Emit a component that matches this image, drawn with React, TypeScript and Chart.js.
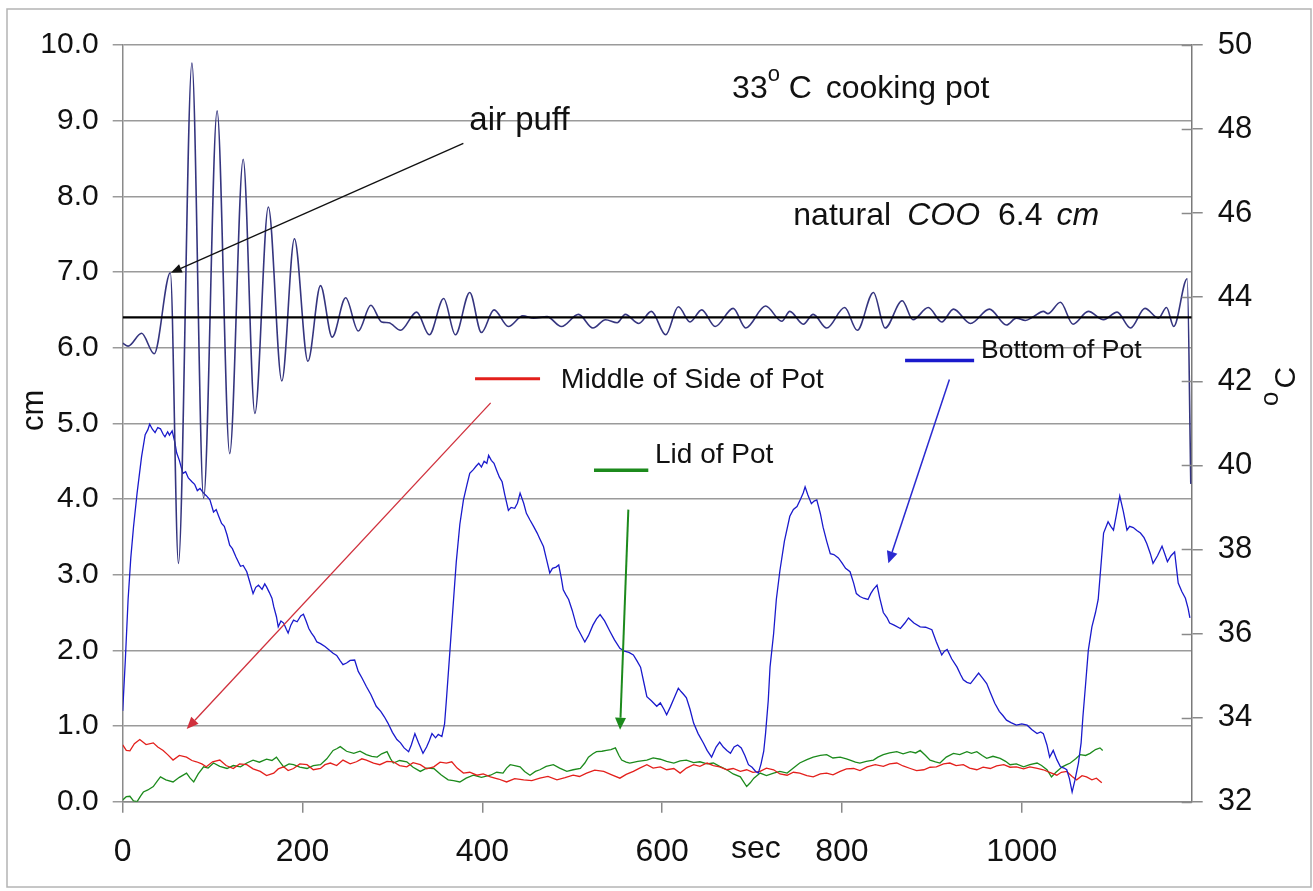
import React, { useEffect, useRef } from "react";
import { Chart, registerables } from "chart.js";

Chart.register(...registerables);

// ---------- data ----------
const X_MIN = 0;
const X_MAX = 1189;
const xTickValues = [0, 200, 400, 600, 800, 1000];
const cmTickValues = [0, 1, 2, 3, 4, 5, 6, 7, 8, 9, 10];
const tempTickValues = [32, 34, 36, 38, 40, 42, 44, 46, 48, 50];
const naturalCOO = 6.4;

// COO oscillation (sec, cm) – left axis
const cooTrace: [number, number][] = [
  [0, 6.06], [6, 6.02], [21, 6.19], [35, 5.92], [53, 6.99], [62, 3.15], [77, 9.76], [90, 4.01],
  [105, 9.13], [119, 4.6], [134, 8.49], [147, 5.13], [162, 7.86], [177, 5.56], [191, 7.44], [206, 5.82],
  [220, 6.82], [233, 6.14], [248, 6.66], [262, 6.22], [276, 6.56], [288, 6.34], [296, 6.33], [309, 6.23],
  [327, 6.47], [341, 6.17], [357, 6.65], [370, 6.17], [386, 6.73], [399, 6.2], [413, 6.5], [429, 6.28],
  [445, 6.42], [457, 6.39], [472, 6.41], [488, 6.28], [507, 6.44], [523, 6.26], [537, 6.37], [550, 6.33],
  [559, 6.44], [574, 6.32], [588, 6.48], [604, 6.17], [618, 6.54], [631, 6.34], [644, 6.5], [659, 6.28],
  [679, 6.52], [693, 6.26], [715, 6.55], [733, 6.35], [742, 6.48], [757, 6.31], [768, 6.44], [783, 6.26],
  [803, 6.53], [817, 6.23], [835, 6.73], [848, 6.26], [867, 6.62], [879, 6.37], [896, 6.53], [911, 6.34],
  [924, 6.51], [943, 6.32], [964, 6.51], [983, 6.3], [994, 6.39], [1004, 6.36], [1013, 6.41], [1024, 6.48],
  [1029, 6.45], [1043, 6.6], [1057, 6.31], [1074, 6.48], [1091, 6.37], [1106, 6.47], [1121, 6.26],
  [1137, 6.52], [1152, 6.39], [1161, 6.53], [1169, 6.28], [1184, 6.91], [1188, 4.2],
];

// Bottom of Pot (sec, °C) – right axis
const bottomOfPot: [number, number][] = [
  [0, 34.16], [3, 35.4], [6, 36.81], [9, 37.8], [12, 38.53], [16, 39.34], [21, 40.21], [25, 40.73], [28, 40.85],
  [30, 40.98], [33, 40.86], [36, 40.78], [39, 40.9], [42, 40.87], [45, 40.74], [47, 40.68], [50, 40.8], [52, 40.72],
  [55, 40.82], [58, 40.55], [60, 40.3], [63, 40.12], [67, 39.81], [70, 39.85], [73, 39.7], [77, 39.61], [80, 39.55],
  [83, 39.4], [86, 39.45], [90, 39.34], [93, 39.28], [97, 39.18], [101, 38.89], [104, 38.95], [107, 38.78], [110, 38.62],
  [113, 38.55], [116, 38.35], [119, 38.1], [122, 38.02], [126, 37.82], [131, 37.6], [134, 37.62], [138, 37.47],
  [141, 37.25], [145, 36.95], [148, 37.1], [151, 37.15], [155, 37.05], [158, 37.18], [160, 37.11], [163, 36.98],
  [166, 36.84], [168, 36.64], [171, 36.4], [173, 36.16], [176, 36.3], [179, 36.25], [182, 36.1], [184, 36.01],
  [187, 36.2], [190, 36.32], [194, 36.28], [198, 36.42], [201, 36.46], [204, 36.3], [207, 36.12], [210, 36.01],
  [213, 35.92], [216, 35.8], [220, 35.76], [225, 35.69], [229, 35.62], [234, 35.53], [238, 35.48], [242, 35.35],
  [245, 35.26], [249, 35.3], [253, 35.36], [258, 35.37], [262, 35.1], [266, 34.95], [271, 34.74], [276, 34.55],
  [282, 34.27], [287, 34.15], [291, 34.02], [295, 33.87], [300, 33.65], [305, 33.48], [309, 33.4], [313, 33.28],
  [318, 33.19], [321, 33.35], [325, 33.62], [329, 33.4], [334, 33.15], [338, 33.3], [341, 33.45], [344, 33.62],
  [348, 33.52], [351, 33.6], [355, 33.55], [358, 33.85], [360, 34.41], [364, 35.6], [368, 36.81], [371, 37.7],
  [375, 38.6], [379, 39.18], [383, 39.55], [386, 39.81], [390, 39.9], [393, 39.98], [396, 40.05], [399, 39.96],
  [402, 40.1], [405, 40.05], [407, 40.24], [410, 40.12], [413, 40.05], [416, 39.88], [419, 39.72], [422, 39.61],
  [425, 39.3], [429, 38.93], [432, 39.0], [436, 38.98], [439, 39.1], [442, 39.34], [446, 39.1], [449, 38.86],
  [453, 38.7], [457, 38.55], [461, 38.39], [464, 38.25], [468, 38.07], [471, 37.8], [475, 37.44], [478, 37.55],
  [482, 37.58], [485, 37.63], [488, 37.3], [490, 37.04], [493, 36.92], [496, 36.81], [500, 36.55], [505, 36.16],
  [509, 36.0], [514, 35.8], [518, 35.95], [523, 36.2], [527, 36.35], [531, 36.45], [536, 36.3], [542, 36.05],
  [547, 35.85], [553, 35.65], [558, 35.58], [563, 35.55], [568, 35.49], [572, 35.35], [576, 35.2], [580, 34.8],
  [583, 34.5], [588, 34.4], [594, 34.27], [598, 34.35], [602, 34.2], [605, 34.07], [609, 34.25], [613, 34.45],
  [618, 34.7], [621, 34.62], [624, 34.55], [627, 34.47], [631, 34.2], [635, 33.87], [640, 33.62], [646, 33.39],
  [650, 33.22], [655, 33.06], [660, 33.3], [664, 33.42], [668, 33.3], [672, 33.22], [676, 33.15], [680, 33.3],
  [684, 33.35], [688, 33.28], [692, 33.1], [696, 32.88], [700, 32.82], [704, 32.72], [707, 32.68], [710, 32.9],
  [713, 33.2], [715, 33.62], [718, 34.4], [720, 35.2], [724, 36.0], [727, 36.81], [731, 37.5], [736, 38.2],
  [742, 38.79], [746, 38.95], [750, 39.02], [754, 39.2], [757, 39.35], [759, 39.49], [762, 39.3], [766, 39.09],
  [769, 39.15], [772, 39.18], [776, 38.85], [779, 38.53], [783, 38.2], [787, 37.9], [791, 37.88], [796, 37.8],
  [800, 37.68], [804, 37.55], [809, 37.47], [813, 37.2], [816, 36.95], [820, 36.88], [824, 36.84], [829, 36.81],
  [832, 36.95], [835, 37.05], [839, 37.15], [842, 36.85], [846, 36.5], [850, 36.38], [853, 36.25], [858, 36.2],
  [865, 36.12], [870, 36.25], [874, 36.37], [880, 36.25], [887, 36.16], [893, 36.15], [900, 36.09], [905, 35.8],
  [911, 35.49], [914, 35.58], [917, 35.62], [922, 35.4], [928, 35.2], [932, 35.02], [935, 34.9], [939, 34.84],
  [943, 34.81], [947, 34.92], [952, 35.06], [956, 34.95], [961, 34.81], [965, 34.6], [970, 34.34], [975, 34.15],
  [979, 34.05], [983, 33.94], [988, 33.88], [994, 33.82], [1000, 33.85], [1006, 33.82], [1011, 33.72],
  [1017, 33.62], [1021, 33.66], [1024, 33.62], [1028, 33.35], [1031, 33.06], [1035, 33.22], [1039, 33.0],
  [1043, 32.83], [1047, 32.8], [1050, 32.76], [1053, 32.55], [1056, 32.23], [1059, 32.5], [1063, 32.92],
  [1066, 33.4], [1068, 34.02], [1071, 34.8], [1074, 35.6], [1078, 36.16], [1082, 36.5], [1085, 36.81],
  [1088, 37.6], [1091, 38.39], [1094, 38.55], [1096, 38.66], [1099, 38.55], [1102, 38.46], [1105, 38.8],
  [1109, 39.27], [1113, 38.9], [1117, 38.46], [1120, 38.55], [1124, 38.52], [1128, 38.45], [1132, 38.39],
  [1136, 38.28], [1139, 38.14], [1143, 37.9], [1146, 37.67], [1151, 37.85], [1156, 38.08], [1159, 37.9],
  [1162, 37.71], [1166, 37.85], [1170, 37.94], [1174, 37.2], [1178, 37.0], [1182, 36.84], [1185, 36.6], [1187, 36.37],
];

// Middle of Side of Pot (sec, °C) – right axis
const sideOfPot: [number, number][] = [
  [0, 33.35], [4, 33.22], [8, 33.21], [13, 33.38], [19, 33.48], [26, 33.36], [34, 33.4], [39, 33.3], [45, 33.22],
  [50, 33.12], [56, 32.99], [63, 33.1], [71, 33.06], [77, 32.98], [82, 32.95], [88, 32.9], [93, 32.83], [100, 32.95],
  [108, 32.99], [115, 32.86], [123, 32.79], [130, 32.9], [138, 32.88], [145, 32.78], [153, 32.72], [160, 32.62],
  [168, 32.68], [173, 32.78], [179, 32.83], [184, 32.74], [190, 32.79], [197, 32.9], [205, 32.88], [212, 32.76],
  [220, 32.79], [225, 32.88], [231, 32.92], [238, 32.86], [245, 32.99], [253, 32.9], [260, 32.95], [266, 33.02],
  [271, 32.99], [279, 32.92], [286, 32.88], [294, 32.96], [301, 32.95], [308, 32.86], [316, 32.83], [323, 32.93],
  [331, 32.88], [338, 32.78], [346, 32.83], [353, 32.94], [360, 32.92], [366, 32.95], [372, 32.8], [379, 32.68],
  [386, 32.7], [394, 32.63], [401, 32.66], [409, 32.59], [418, 32.54], [427, 32.47], [436, 32.55], [446, 32.52],
  [455, 32.5], [464, 32.56], [473, 32.6], [483, 32.52], [492, 32.57], [501, 32.63], [508, 32.6], [516, 32.68],
  [525, 32.75], [535, 32.72], [544, 32.64], [553, 32.56], [560, 32.65], [568, 32.72], [575, 32.8], [583, 32.88],
  [590, 32.8], [598, 32.83], [605, 32.76], [613, 32.79], [620, 32.68], [627, 32.8], [635, 32.88], [642, 32.84],
  [650, 32.92], [657, 32.86], [664, 32.83], [672, 32.76], [679, 32.79], [687, 32.72], [694, 32.76], [701, 32.7],
  [709, 32.72], [716, 32.8], [724, 32.76], [731, 32.66], [739, 32.63], [746, 32.7], [753, 32.68], [761, 32.62],
  [768, 32.59], [776, 32.66], [783, 32.68], [790, 32.64], [798, 32.72], [805, 32.78], [813, 32.79], [820, 32.74],
  [828, 32.83], [837, 32.88], [846, 32.84], [853, 32.9], [861, 32.92], [868, 32.85], [876, 32.79], [883, 32.74],
  [891, 32.76], [898, 32.82], [905, 32.83], [913, 32.9], [920, 32.92], [927, 32.86], [935, 32.88], [942, 32.8],
  [950, 32.76], [957, 32.82], [965, 32.79], [972, 32.85], [980, 32.88], [987, 32.82], [994, 32.83], [1002, 32.78],
  [1009, 32.83], [1016, 32.8], [1024, 32.76], [1031, 32.7], [1039, 32.63], [1044, 32.7], [1050, 32.72],
  [1056, 32.6], [1061, 32.52], [1067, 32.62], [1072, 32.59], [1078, 32.52], [1083, 32.56], [1089, 32.45],
];

// Lid of Pot (sec, °C) – right axis
const lidOfPot: [number, number][] = [
  [0, 32.04], [4, 32.12], [8, 32.13], [12, 32.02], [16, 32.0], [20, 32.14], [23, 32.23], [28, 32.28], [34, 32.36],
  [38, 32.48], [42, 32.59], [48, 32.52], [56, 32.47], [63, 32.58], [71, 32.68], [75, 32.56], [79, 32.47], [84, 32.66],
  [90, 32.83], [95, 32.8], [101, 32.92], [108, 32.84], [116, 32.79], [123, 32.86], [131, 32.83], [138, 32.92],
  [145, 32.99], [152, 32.94], [160, 33.01], [166, 32.98], [171, 33.06], [175, 32.94], [179, 32.83], [185, 32.9],
  [190, 32.88], [197, 32.82], [205, 32.79], [212, 32.86], [220, 32.88], [227, 33.02], [234, 33.22], [238, 33.26],
  [242, 33.31], [249, 33.2], [257, 33.15], [264, 33.2], [271, 33.12], [277, 33.08], [283, 33.06], [288, 33.14],
  [294, 33.19], [298, 33.02], [301, 32.92], [308, 32.98], [316, 32.95], [323, 32.82], [331, 32.72], [338, 32.8],
  [346, 32.79], [354, 32.64], [362, 32.52], [368, 32.5], [375, 32.47], [382, 32.56], [390, 32.63], [399, 32.58],
  [409, 32.63], [416, 32.7], [423, 32.68], [427, 32.8], [431, 32.88], [436, 32.86], [442, 32.83], [447, 32.72],
  [453, 32.63], [459, 32.72], [464, 32.76], [471, 32.84], [479, 32.88], [486, 32.8], [494, 32.72], [501, 32.76],
  [509, 32.79], [514, 32.92], [518, 33.06], [523, 33.14], [527, 33.19], [533, 33.2], [538, 33.22], [543, 33.24],
  [548, 33.28], [552, 33.1], [555, 32.99], [560, 32.94], [564, 32.92], [573, 32.96], [583, 32.99], [590, 33.04],
  [598, 33.01], [605, 32.96], [613, 32.92], [620, 32.97], [627, 32.99], [635, 32.93], [642, 32.95], [650, 32.9],
  [657, 32.92], [664, 32.84], [672, 32.76], [679, 32.66], [687, 32.59], [694, 32.36], [698, 32.45], [702, 32.56],
  [709, 32.68], [716, 32.62], [724, 32.68], [731, 32.72], [739, 32.68], [746, 32.8], [753, 32.92], [761, 33.0],
  [768, 33.06], [776, 33.1], [783, 33.12], [790, 33.04], [798, 33.06], [805, 33.02], [809, 32.99], [815, 32.94],
  [820, 32.92], [827, 32.96], [835, 32.99], [840, 33.06], [846, 33.12], [853, 33.16], [861, 33.19], [868, 33.14],
  [876, 33.19], [882, 33.16], [887, 33.22], [893, 33.1], [898, 32.99], [904, 32.95], [909, 32.92], [916, 33.06],
  [924, 33.15], [931, 33.12], [939, 33.19], [944, 33.15], [950, 33.19], [956, 33.1], [961, 33.03], [968, 33.08],
  [976, 33.03], [982, 32.96], [987, 32.88], [994, 32.9], [1002, 32.83], [1009, 32.88], [1017, 32.92],
  [1022, 32.86], [1028, 32.76], [1033, 32.59], [1038, 32.7], [1045, 32.83], [1050, 32.88], [1054, 32.92],
  [1060, 33.02], [1065, 33.12], [1071, 33.1], [1076, 33.15], [1082, 33.24], [1087, 33.28], [1090, 33.22],
];

// ---------- annotation placement (data units: sec, cm) ----------
const annot = {
  airPuffText: [385.5, 8.88],
  airPuffArrow: { from: [378.9, 8.7], to: [53.5, 6.99] },
  titleText: [677.8, 9.3],
  naturalText: [745.9, 7.62],
  sideKey: { x0: 391.9, x1: 464.2, y: 5.59, text: [487.2, 5.47] },
  sideArrow: { from: [409.3, 5.27], to: [71.2, 0.96] },
  lidKey: { x0: 524.2, x1: 584.6, y: 4.38, text: [592.1, 4.48] },
  lidArrow: { from: [562.4, 3.86], to: [553.2, 0.95] },
  bottomKey: { x0: 870.2, x1: 947.0, y: 5.83, text: [954.7, 5.86] },
  bottomArrow: { from: [919.5, 5.58], to: [851.6, 3.15] },
};

const FONT = "'Liberation Sans', Arial, Helvetica, sans-serif";
const W = 1313;
const H = 891;

type Run = { t: string; size?: number; italic?: boolean; dy?: number; gap?: number };

function drawRuns(ctx: CanvasRenderingContext2D, x: number, y: number, runs: Run[], baseSize: number) {
  let cx = x;
  ctx.textAlign = "left";
  ctx.textBaseline = "alphabetic";
  for (const r of runs) {
    cx += r.gap || 0;
    const sz = r.size || baseSize;
    ctx.font = `${r.italic ? "italic " : ""}${sz}px ${FONT}`;
    ctx.fillText(r.t, cx, y + (r.dy || 0));
    cx += ctx.measureText(r.t).width;
  }
}

function arrow(ctx: CanvasRenderingContext2D, x0: number, y0: number, x1: number, y1: number, color: string, lw: number, hl: number, hw: number) {
  const ang = Math.atan2(y1 - y0, x1 - x0);
  const bx = x1 - Math.cos(ang) * hl;
  const by = y1 - Math.sin(ang) * hl;
  ctx.strokeStyle = color;
  ctx.fillStyle = color;
  ctx.lineWidth = lw;
  ctx.beginPath();
  ctx.moveTo(x0, y0);
  ctx.lineTo(bx, by);
  ctx.stroke();
  ctx.beginPath();
  ctx.moveTo(x1, y1);
  ctx.lineTo(bx + Math.sin(ang) * hw, by - Math.cos(ang) * hw);
  ctx.lineTo(bx - Math.sin(ang) * hw, by + Math.cos(ang) * hw);
  ctx.closePath();
  ctx.fill();
}

const decorPlugin = {
  id: "decor",
  beforeDraw(chart: any) {
    const ctx: CanvasRenderingContext2D = chart.ctx;
    ctx.save();
    ctx.fillStyle = "#ffffff";
    ctx.fillRect(0, 0, chart.width, chart.height);
    ctx.restore();
  },
  afterDraw(chart: any) {
    const ctx: CanvasRenderingContext2D = chart.ctx;
    const { x, y, y2 } = chart.scales;
    const px = (v: number) => x.getPixelForValue(v);
    const py = (v: number) => y.getPixelForValue(v);
    ctx.save();

    // outer frame
    ctx.strokeStyle = "#b4b4b4";
    ctx.lineWidth = 1.5;
    ctx.strokeRect(7, 9, W - 9, H - 13);

    // right axis tick marks crossing into plot
    ctx.strokeStyle = "#8a8a8a";
    ctx.lineWidth = 1.5;
    for (const t of tempTickValues) {
      const yy = Math.round(y2.getPixelForValue(t)) + 0.5;
      ctx.beginPath();
      ctx.moveTo(y2.left - 10, yy);
      ctx.lineTo(y2.left, yy);
      ctx.stroke();
    }

    ctx.fillStyle = "#111";
    // axis titles
    ctx.save();
    ctx.translate(43, 431);
    ctx.rotate(-Math.PI / 2);
    ctx.font = `31px ${FONT}`;
    ctx.textBaseline = "alphabetic";
    ctx.textAlign = "left";
    ctx.fillText("cm", 0, 0);
    ctx.restore();

    ctx.save();
    ctx.translate(1295, 406);
    ctx.rotate(-Math.PI / 2);
    drawRuns(ctx, 0, 0, [{ t: "o", size: 26, dy: -17 }, { t: "C", size: 30, gap: 3 }], 30);
    ctx.restore();

    ctx.font = `32px ${FONT}`;
    ctx.textAlign = "left";
    ctx.textBaseline = "alphabetic";
    ctx.fillText("sec", 731, 858);

    // text annotations
    drawRuns(ctx, px(annot.titleText[0]), py(annot.titleText[1]), [
      { t: "33" },
      { t: "o", size: 22, dy: -17 },
      { t: " C" },
      { t: "  cooking pot", gap: -4 },
    ], 32);
    drawRuns(ctx, px(annot.naturalText[0]), py(annot.naturalText[1]), [
      { t: "natural" },
      { t: "COO", italic: true, gap: 16 },
      { t: "6.4", gap: 18 },
      { t: "cm", italic: true, gap: 14 },
    ], 32);
    drawRuns(ctx, px(annot.airPuffText[0]), py(annot.airPuffText[1]), [{ t: "air puff" }], 33);

    arrow(ctx, px(annot.airPuffArrow.from[0]), py(annot.airPuffArrow.from[1]), px(annot.airPuffArrow.to[0]), py(annot.airPuffArrow.to[1]), "#111", 1.3, 11, 4.5);

    // key: side
    const key = (k: any, color: string, lw: number) => {
      ctx.strokeStyle = color;
      ctx.lineWidth = lw;
      ctx.beginPath();
      ctx.moveTo(px(k.x0), py(k.y));
      ctx.lineTo(px(k.x1), py(k.y));
      ctx.stroke();
    };
    key(annot.sideKey, "#e3201c", 3);
    key(annot.lidKey, "#1c8a1c", 3.5);
    key(annot.bottomKey, "#1a1acc", 3.5);
    ctx.fillStyle = "#111";
    drawRuns(ctx, px(annot.sideKey.text[0]), py(annot.sideKey.text[1]), [{ t: "Middle of Side of Pot" }], 28.5);
    drawRuns(ctx, px(annot.lidKey.text[0]), py(annot.lidKey.text[1]), [{ t: "Lid of Pot" }], 28);
    drawRuns(ctx, px(annot.bottomKey.text[0]), py(annot.bottomKey.text[1]), [{ t: "Bottom of Pot" }], 26.5);

    arrow(ctx, px(annot.sideArrow.from[0]), py(annot.sideArrow.from[1]), px(annot.sideArrow.to[0]), py(annot.sideArrow.to[1]), "#d0303c", 1.3, 12, 5);
    arrow(ctx, px(annot.lidArrow.from[0]), py(annot.lidArrow.from[1]), px(annot.lidArrow.to[0]), py(annot.lidArrow.to[1]), "#1c8a1c", 2, 12, 5.5);
    arrow(ctx, px(annot.bottomArrow.from[0]), py(annot.bottomArrow.from[1]), px(annot.bottomArrow.to[0]), py(annot.bottomArrow.to[1]), "#2a2ad0", 1.5, 12, 5.5);

    ctx.restore();
  },
};

const toXY = (arr: [number, number][]) => arr.map(([a, b]) => ({ x: a, y: b }));

export default function App() {
  const ref = useRef<HTMLCanvasElement | null>(null);
  useEffect(() => {
    if (!ref.current) return;
    const chart = new Chart(ref.current, {
      type: "line",
      data: {
        datasets: [
          {
            label: "natural COO",
            data: [{ x: X_MIN, y: naturalCOO }, { x: X_MAX, y: naturalCOO }],
            yAxisID: "y",
            borderColor: "#000000",
            borderWidth: 2.2,
            pointRadius: 0,
          },
          {
            label: "COO",
            data: toXY(cooTrace),
            yAxisID: "y",
            borderColor: "#35357f",
            borderWidth: 1.6,
            pointRadius: 0,
            cubicInterpolationMode: "monotone",
          },
          {
            label: "Bottom of Pot",
            data: toXY(bottomOfPot),
            yAxisID: "y2",
            borderColor: "#1a1acc",
            borderWidth: 1.3,
            pointRadius: 0,
          },
          {
            label: "Middle of Side of Pot",
            data: toXY(sideOfPot),
            yAxisID: "y2",
            borderColor: "#e3201c",
            borderWidth: 1.3,
            pointRadius: 0,
          },
          {
            label: "Lid of Pot",
            data: toXY(lidOfPot),
            yAxisID: "y2",
            borderColor: "#1c8a1c",
            borderWidth: 1.3,
            pointRadius: 0,
          },
        ],
      },
      options: {
        animation: false,
        responsive: true,
        maintainAspectRatio: false,
        devicePixelRatio: 1,
        layout: { padding: { left: 0, right: 0, top: 45, bottom: 0 } },
        plugins: { legend: { display: false }, tooltip: { enabled: false } },
        events: [],
        scales: {
          x: {
            type: "linear",
            position: "bottom",
            min: X_MIN,
            max: X_MAX,
            afterBuildTicks: (s: any) => {
              s.ticks = xTickValues.map((v) => ({ value: v }));
            },
            afterFit: (s: any) => {
              s.height = 89.3;
            },
            grid: { display: true, drawOnChartArea: false, drawTicks: true, tickLength: 11, color: "#8a8a8a", lineWidth: 1.5 },
            border: { display: true, color: "#8a8a8a", width: 1.5 },
            ticks: {
              color: "#111",
              font: { family: FONT, size: 32 },
              padding: 20,
              maxRotation: 0,
              autoSkip: false,
              callback: (v: any) => String(v),
            },
          },
          y: {
            type: "linear",
            position: "left",
            min: 0,
            max: 10,
            afterBuildTicks: (s: any) => {
              s.ticks = cmTickValues.map((v) => ({ value: v }));
            },
            afterFit: (s: any) => {
              s.width = 122.7;
            },
            grid: { display: true, drawOnChartArea: true, drawTicks: true, tickLength: 10, color: "#9a9a9a", lineWidth: 1.5 },
            border: { display: true, color: "#8a8a8a", width: 1.5 },
            ticks: {
              color: "#111",
              font: { family: FONT, size: 30 },
              padding: 14,
              callback: (v: any) => Number(v).toFixed(1),
            },
          },
          y2: {
            type: "linear",
            position: "right",
            min: 32,
            max: 50,
            afterBuildTicks: (s: any) => {
              s.ticks = tempTickValues.map((v) => ({ value: v }));
            },
            afterFit: (s: any) => {
              s.width = W - 1191.7;
            },
            grid: { display: true, drawOnChartArea: false, drawTicks: true, tickLength: 11, color: "#8a8a8a", lineWidth: 1.5 },
            border: { display: true, color: "#7a7a7a", width: 1.5 },
            ticks: {
              color: "#111",
              font: { family: FONT, size: 31 },
              padding: 15,
              callback: (v: any) => String(v),
            },
          },
        },
      },
      plugins: [decorPlugin],
    } as any);
    return () => chart.destroy();
  }, []);
  return (
    <div style={{ position: "fixed", left: 0, top: 0, width: W, height: H, background: "#fff" }}>
      <canvas ref={ref} />
    </div>
  );
}
